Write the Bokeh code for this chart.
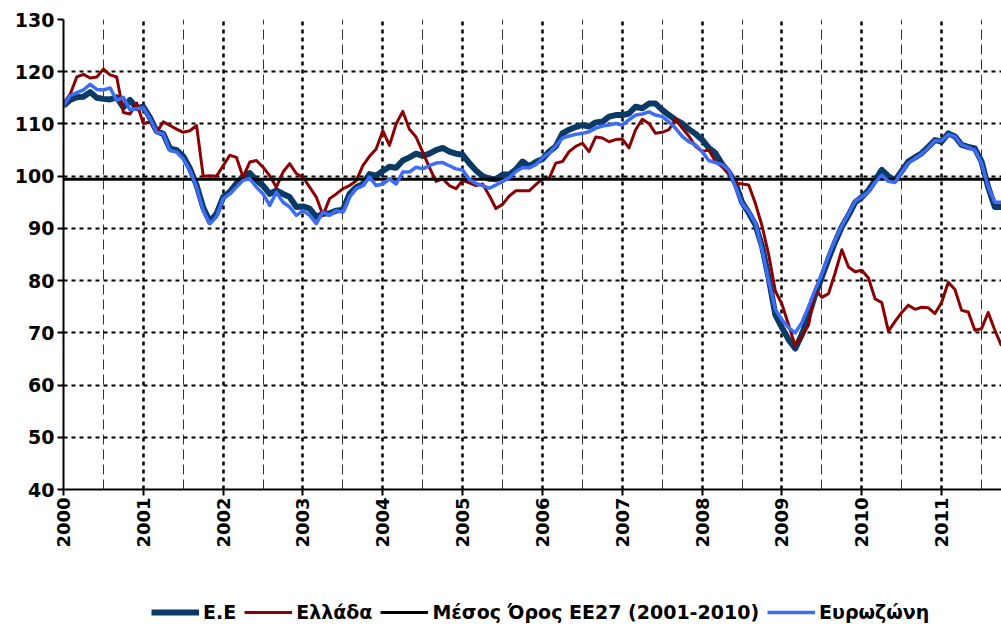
import math
from bokeh.plotting import figure
from bokeh.layouts import column
from bokeh.models import FixedTicker, Legend, LegendItem, Range1d
from bokeh.embed import file_html
from bokeh.resources import INLINE

# ---------------- data (monthly, Jan 2000 .. Oct 2011) ----------------
years = list(range(2000, 2012))
year_labels = [str(y) for y in years]
y_ticks = [40, 50, 60, 70, 80, 90, 100, 110, 120, 130]

series_names = ["Ε.Ε", "Ελλάδα", "Μέσος Όρος ΕΕ27 (2001-2010)", "Ευρωζώνη"]

ee = [
    113.5, 114.6, 115.1, 115.2, 116.1, 115.0, 114.8, 114.7, 115.1, 113.2, 114.6, 113.0,
    113.3, 111.2, 108.6, 108.1, 105.3, 105.0, 103.8, 101.5, 98.3, 94.0, 91.3, 92.8,
    96.0, 97.0, 98.6, 100.0, 100.6, 99.2, 98.2, 96.6, 97.3, 96.6, 96.0, 94.1,
    94.2, 93.8, 92.2, 92.8, 92.9, 93.4, 93.6, 96.6, 97.9, 98.5, 100.4, 100.1,
    101.0, 101.8, 101.6, 103.0, 103.6, 104.3, 103.9, 104.3, 105.0, 105.4, 104.7, 104.3,
    104.1, 102.5, 101.1, 100.0, 99.5, 99.4, 100.3, 100.3, 101.3, 102.8, 101.9, 102.7,
    103.3, 104.7, 105.7, 108.2, 108.9, 109.4, 109.8, 109.5, 110.3, 110.4, 111.4, 111.7,
    111.7, 112.0, 113.3, 113.0, 113.9, 113.9, 112.7, 111.7, 110.8, 110.1, 109.0, 108.1,
    107.0, 105.4, 104.4, 102.3, 100.8, 98.7, 95.0, 93.0, 90.7, 86.6, 80.5, 73.5,
    71.0, 68.7, 67.0, 69.7, 73.3, 77.3, 80.7, 84.2, 87.4, 90.3, 92.5, 95.0,
    96.0, 97.3, 99.2, 101.2, 100.0, 99.2, 101.0, 102.8, 103.6, 104.4, 105.6, 106.9,
    106.6, 108.2, 107.6, 106.0, 105.6, 105.3, 102.8, 97.9, 94.1, 94.1,
]

greece = [
    113.9, 115.7, 119.0, 119.5, 118.8, 119.0, 120.5, 119.4, 119.0, 112.2, 111.9, 114.0,
    110.1, 110.4, 108.4, 110.4, 109.7, 109.0, 108.4, 108.7, 109.7, 100.0, 100.1, 100.0,
    102.0, 104.0, 103.6, 99.8, 102.7, 103.0, 101.7, 100.1, 97.9, 100.8, 102.4, 100.5,
    99.8, 97.9, 96.0, 92.5, 95.7, 96.6, 97.6, 98.2, 99.1, 102.0, 103.8, 105.2,
    108.7, 105.9, 110.0, 112.4, 109.0, 107.5, 104.6, 101.7, 99.0, 99.5, 98.2, 97.6,
    99.2, 98.7, 98.2, 98.5, 96.3, 93.8, 94.6, 96.2, 97.2, 97.2, 97.2, 98.4,
    99.5, 99.6, 102.5, 102.8, 104.7, 105.7, 106.3, 104.7, 107.5, 107.3, 106.6, 107.0,
    107.1, 105.4, 108.9, 110.9, 110.1, 108.2, 108.4, 108.9, 110.9, 109.2, 107.7, 105.7,
    104.7, 105.0, 102.8, 101.8, 100.6, 98.7, 98.5, 98.3, 94.8, 90.5, 85.0, 78.0,
    75.5, 71.5, 67.5, 69.3, 71.5, 78.3, 76.8, 77.5, 81.5, 85.9, 82.6, 81.7,
    82.0, 80.5, 76.5, 75.8, 70.3, 72.2, 73.9, 75.3, 74.5, 74.9, 74.8, 73.7,
    75.8, 79.7, 78.3, 74.3, 74.0, 70.5, 70.8, 73.9, 70.5, 67.5,
]

eurozone = [
    113.5, 115.4, 116.0, 116.5, 117.6, 116.6, 116.5, 116.9, 114.5, 115.1, 112.7, 112.9,
    113.1, 111.0, 108.4, 108.1, 104.9, 104.6, 103.3, 101.1, 97.9, 93.4, 90.9, 92.2,
    95.7, 96.6, 97.9, 99.2, 99.5, 97.9, 96.6, 94.4, 96.9, 95.0, 94.1, 92.5,
    93.4, 92.5, 90.9, 93.1, 92.5, 93.4, 93.1, 96.0, 97.6, 98.2, 99.8, 98.2,
    98.5, 99.5, 98.5, 100.8, 100.8, 101.7, 101.4, 102.0, 102.5, 102.6, 102.0, 101.4,
    101.2, 99.4, 98.6, 98.2, 97.7, 98.3, 99.0, 99.7, 100.9, 101.6, 101.6, 102.2,
    103.5, 104.4, 105.8, 107.3, 107.7, 108.0, 108.2, 108.5, 109.2, 109.6, 109.8, 110.1,
    109.8, 110.8, 111.7, 111.9, 112.3, 111.7, 111.4, 110.4, 109.2, 107.6, 106.6, 106.0,
    104.7, 103.0, 102.6, 102.2, 101.2, 98.0, 94.8, 93.2, 91.0, 86.0, 80.0, 74.5,
    72.5, 71.0, 70.0, 72.0, 75.0, 78.3, 81.3, 84.8, 87.8, 90.5, 92.8, 95.2,
    96.0, 97.0, 98.8, 100.2, 99.0, 98.8, 100.8, 102.5, 103.4, 104.3, 105.4, 106.8,
    106.8, 108.0, 107.6, 106.0, 105.5, 105.0, 102.5, 98.0, 95.0, 95.0,
]

avg_value = 99.4  # Μέσος Όρος ΕΕ27 (2001-2010)

# ---------------- styles ----------------
FONT = "DejaVu Sans"
styles = [
    dict(line_color="#0b3a66", line_width=6),
    dict(line_color="#8b0000", line_width=3),
    dict(line_color="black", line_width=3),
    dict(line_color="#3d6df5", line_width=3.5),
]

# ---------------- derived ----------------
n = len(ee)
x = [2000 + i / 12.0 for i in range(n)]
avg = [avg_value] * n
all_series = [ee, greece, avg, eurozone]

p = figure(
    width=1001, height=595,
    output_backend="svg", toolbar_location=None,
    x_range=Range1d(2000, 2000 + (n - 1) / 12.0),
    y_range=Range1d(40, 130),
    min_border_left=63, min_border_right=0,
    min_border_top=19, min_border_bottom=106,
)
p.outline_line_color = None

# axes
p.xaxis.ticker = FixedTicker(ticks=[float(y) for y in years],
                             minor_ticks=[y + 0.5 for y in years])
p.xaxis.major_label_overrides = {float(y): lab for y, lab in zip(years, year_labels)}
p.xaxis.major_label_orientation = math.pi / 2
p.yaxis.ticker = FixedTicker(ticks=y_ticks)

for ax in (p.xaxis[0], p.yaxis[0]):
    ax.axis_line_color = "black"
    ax.axis_line_width = 2
    ax.major_tick_line_color = "black"
    ax.major_tick_line_width = 2
    ax.major_tick_in = 0
    ax.major_tick_out = 6
    ax.minor_tick_line_color = None
    ax.major_label_text_font = FONT
    ax.major_label_text_font_style = "bold"
    ax.major_label_text_color = "black"

p.yaxis.major_label_text_font_size = "19px"
p.yaxis.major_label_standoff = 3
p.xaxis.major_label_text_font_size = "18px"
p.xaxis.major_label_standoff = 2

# grids
p.ygrid.grid_line_color = "black"
p.ygrid.grid_line_width = 2
p.ygrid.grid_line_dash = "4 4"
p.xgrid.grid_line_color = "black"
p.xgrid.grid_line_width = 2.5
p.xgrid.grid_line_dash = "4 4"
p.xgrid.minor_grid_line_color = "#333333"
p.xgrid.minor_grid_line_width = 1
p.xgrid.minor_grid_line_dash = "10 5"

# series
for ys, st in zip(all_series, styles):
    p.line(x, ys, line_join="round", **st)

# ---------------- legend strip (below the chart) ----------------
# the same series are drawn here outside the strip's visible range, so only
# their legend samples show
lg = figure(
    width=1001, height=32,
    output_backend="svg", toolbar_location=None,
    x_axis_type=None, y_axis_type=None,
    x_range=Range1d(0, 1), y_range=Range1d(0, 1),
    min_border_left=0, min_border_right=0, min_border_top=0, min_border_bottom=0,
)
lg.outline_line_color = None
lg.xgrid.visible = False
lg.ygrid.visible = False
lg_renderers = [lg.line(x, ys, **st) for ys, st in zip(all_series, styles)]

legend = Legend(
    items=[LegendItem(label=name, renderers=[r]) for name, r in zip(series_names, lg_renderers)],
    orientation="horizontal",
    location=(88, 4),
    padding=0, margin=0, spacing=8,
    glyph_width=48, glyph_height=20, label_height=20,
    label_standoff=4,
    label_text_font=FONT, label_text_font_style="bold",
    label_text_font_size="19px", label_text_color="black",
    background_fill_alpha=0, border_line_color=None,
)
lg.add_layout(legend, "center")

layout = column(p, lg, spacing=0)
open("out.html", "w").write(file_html(layout, INLINE))
